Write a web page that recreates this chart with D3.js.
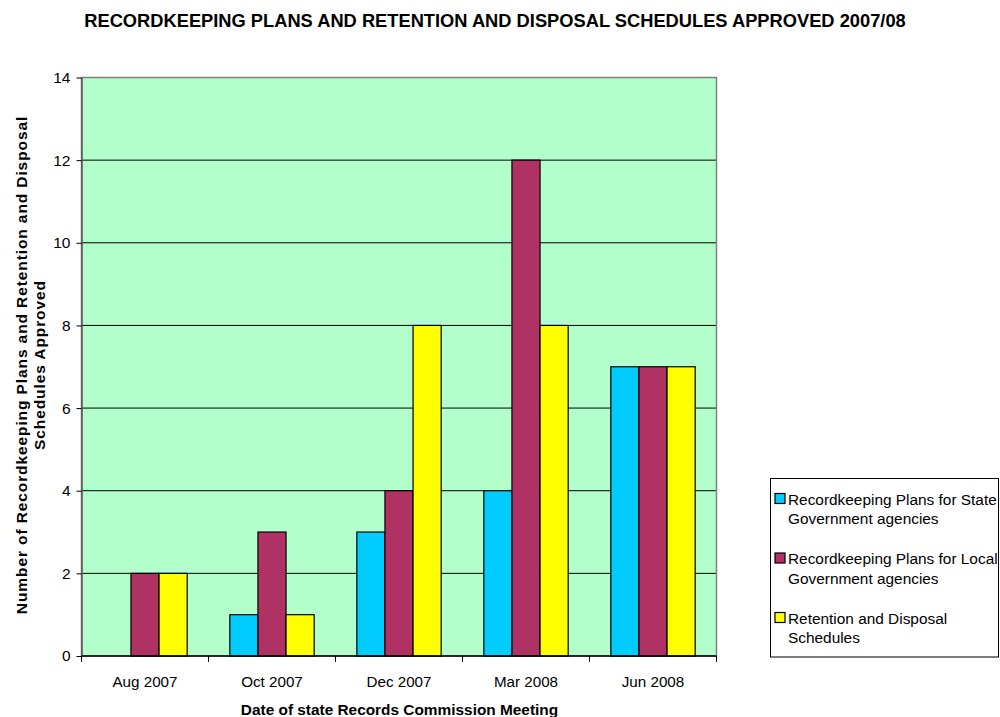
<!DOCTYPE html>
<html>
<head>
<meta charset="utf-8">
<script src="https://cdn.jsdelivr.net/npm/d3@7"></script>
<style>
  body { margin: 0; background: #fff; }
  svg { font-family: "Liberation Sans", Arial, sans-serif; }
</style>
</head>
<body>
<div id="svg-area"></div>
<script>
const width = 1000;
const height = 717;
const margin = {top: 77.5, left: 81.5, bottom: 61, right: 283.5};

const categories = ['Aug 2007', 'Oct 2007', 'Dec 2007', 'Mar 2008', 'Jun 2008'];
const seriesNames = [
  ['Recordkeeping Plans for State', 'Government agencies'],
  ['Recordkeeping Plans for Local', 'Government agencies'],
  ['Retention and Disposal', 'Schedules']
];
const colors = ['#00ccff', '#b03265', '#ffff00'];
const stateValues = [0, 1, 3, 4, 7];
const localValues = [2, 3, 4, 12, 7];
const retentionValues = [2, 1, 8, 8, 7];
const yTicks = [0, 2, 4, 6, 8, 10, 12, 14];

const series = [stateValues, localValues, retentionValues];

const x = d3.scaleBand()
  .domain(categories)
  .range([margin.left, width - margin.right])
  .padding(0);

const bw = x.bandwidth();
const x1 = d3.scaleBand()
  .domain([0, 1, 2])
  .range([bw * 0.168, bw * 0.832])
  .padding(0);

const y = d3.scaleLinear()
  .domain([0, 14])
  .range([height - margin.bottom, margin.top]);

const svg = d3.select('#svg-area').append('svg')
  .attr('width', width).attr('height', height);

// plot background
svg.append('rect')
  .attr('x', margin.left).attr('y', margin.top)
  .attr('width', width - margin.right - margin.left)
  .attr('height', y(0) - margin.top)
  .attr('fill', '#b3ffcc');

// gridlines
svg.append('g')
  .selectAll('line').data(yTicks.filter(d => d > 0 && d < 14)).enter().append('line')
  .attr('x1', margin.left).attr('x2', width - margin.right)
  .attr('y1', d => y(d)).attr('y2', d => y(d))
  .attr('stroke', '#000').attr('stroke-width', 1);

// plot border
svg.append('rect')
  .attr('x', margin.left).attr('y', margin.top)
  .attr('width', width - margin.right - margin.left)
  .attr('height', y(0) - margin.top)
  .attr('fill', 'none')
  .attr('stroke', '#808080').attr('stroke-width', 1.5);

// bars
const rows = [];
categories.forEach((c, i) => series.forEach((s, j) => {
  if (s[i] > 0) rows.push({cat: c, k: j, value: s[i]});
}));

svg.append('g')
  .selectAll('rect').data(rows).enter().append('rect')
  .attr('x', d => x(d.cat) + x1(d.k))
  .attr('y', d => y(d.value))
  .attr('width', x1.bandwidth())
  .attr('height', d => y(0) - y(d.value))
  .attr('fill', d => colors[d.k])
  .attr('stroke', '#000')
  .attr('stroke-width', 1.2);

// y axis
const yAxis = g => g
  .attr('transform', `translate(${margin.left}, 0)`)
  .call(d3.axisLeft(y).tickValues(yTicks).tickSize(5).tickPadding(6).tickSizeOuter(0))
  .call(g => g.select('.domain').attr('stroke', '#555').attr('stroke-width', 1.5))
  .call(g => g.selectAll('text').attr('font-size', 15.5).attr('fill', '#000')
    .attr('font-family', '"Liberation Sans", Arial, sans-serif'));
svg.append('g').call(yAxis);

// x axis
const xEdges = categories.map(c => x(c)).concat([width - margin.right]);
const xg = svg.append('g');
xg.append('line')
  .attr('x1', margin.left).attr('x2', width - margin.right)
  .attr('y1', y(0)).attr('y2', y(0))
  .attr('stroke', '#000').attr('stroke-width', 1.5);
xg.selectAll('line.tk').data(xEdges).enter().append('line')
  .attr('class', 'tk')
  .attr('x1', d => d).attr('x2', d => d)
  .attr('y1', y(0)).attr('y2', y(0) + 6)
  .attr('stroke', '#000');
xg.selectAll('text').data(categories).enter().append('text')
  .attr('x', d => x(d) + bw / 2)
  .attr('y', y(0) + 31)
  .attr('text-anchor', 'middle')
  .attr('font-size', 15.2)
  .text(d => d);

// titles
svg.append('text')
  .attr('x', 495).attr('y', 27)
  .attr('text-anchor', 'middle')
  .attr('font-size', 18.3).attr('font-weight', 'bold')
  .text('RECORDKEEPING PLANS AND RETENTION AND DISPOSAL SCHEDULES APPROVED 2007/08');

svg.append('text')
  .attr('x', 399.5).attr('y', 715)
  .attr('text-anchor', 'middle')
  .attr('font-size', 15.4).attr('font-weight', 'bold')
  .text('Date of state Records Commission Meeting');

const yl = svg.append('text')
  .attr('transform', 'translate(0, 365) rotate(-90)')
  .attr('text-anchor', 'middle')
  .attr('font-size', 15.5).attr('font-weight', 'bold')
  .attr('letter-spacing', 0.9);
yl.append('tspan').attr('x', 0).attr('y', 27)
  .text('Number of Recordkeeping Plans and Retention and Disposal');
yl.append('tspan').attr('x', 0).attr('y', 45)
  .text('Schedules Approved');

// legend
const legend = svg.append('g');
legend.append('rect')
  .attr('x', 770.5).attr('y', 478.5)
  .attr('width', 228).attr('height', 178.5)
  .attr('fill', '#fff').attr('stroke', '#000').attr('stroke-width', 1);

seriesNames.forEach((lines, i) => {
  const cy = 499 + i * 59.5;
  legend.append('rect')
    .attr('x', 775).attr('y', cy - 5.5)
    .attr('width', 10).attr('height', 10)
    .attr('fill', colors[i]).attr('stroke', '#000').attr('stroke-width', 1.2);
  lines.forEach((t, k) => {
    legend.append('text')
      .attr('x', 788).attr('y', cy + 5.5 + k * 19.5)
      .attr('font-size', 15.4)
      .text(t);
  });
});
</script>
</body>
</html>
